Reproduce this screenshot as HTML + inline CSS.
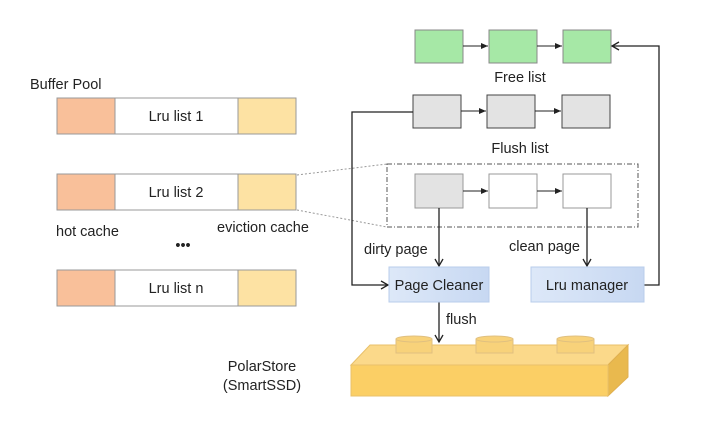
<!DOCTYPE html>
<html><head><style>
body{margin:0;background:#fff;}
svg text{font-family:"Liberation Sans","DejaVu Sans",sans-serif;font-size:14.5px;fill:#222;}
</style></head><body>
<svg width="712" height="421" viewBox="0 0 712 421" xmlns="http://www.w3.org/2000/svg">
<defs>
<marker id="a" markerWidth="8" markerHeight="8" refX="7" refY="4" orient="auto" markerUnits="userSpaceOnUse"><path d="M0,1 L7,4 L0,7 z" fill="#222"/></marker>
<marker id="o" markerWidth="10" markerHeight="10" refX="8" refY="5" orient="auto" markerUnits="userSpaceOnUse"><path d="M1,1 L8,5 L1,9" fill="none" stroke="#222" stroke-width="1.3"/></marker>
<linearGradient id="bl" x1="0" x2="1"><stop offset="0" stop-color="#dde8f8"/><stop offset="1" stop-color="#c7d8f2"/></linearGradient>
</defs>
<text x="30" y="89" font-size="14">Buffer Pool</text>
<g stroke="#999" stroke-width="1">
<rect x="57" y="98" width="58" height="36" fill="#f9c09a"/><rect x="115" y="98" width="123" height="36" fill="#fff"/><rect x="238" y="98" width="58" height="36" fill="#fde2a3"/>
<rect x="57" y="174" width="58" height="36" fill="#f9c09a"/><rect x="115" y="174" width="123" height="36" fill="#fff"/><rect x="238" y="174" width="58" height="36" fill="#fde2a3"/>
<rect x="57" y="270" width="58" height="36" fill="#f9c09a"/><rect x="115" y="270" width="123" height="36" fill="#fff"/><rect x="238" y="270" width="58" height="36" fill="#fde2a3"/>
</g>
<text x="176" y="121" text-anchor="middle" font-size="12.5">Lru list 1</text>
<text x="176" y="197" text-anchor="middle" font-size="12.5">Lru list 2</text>
<text x="176" y="293" text-anchor="middle" font-size="12.5">Lru list n</text>
<text x="56" y="236">hot cache</text>
<text x="217" y="232">eviction cache</text>
<text x="183" y="250" text-anchor="middle" font-size="13">•••</text>
<line x1="297" y1="175" x2="387" y2="164" stroke="#999" stroke-dasharray="2,2"/>
<line x1="297" y1="210" x2="387" y2="227" stroke="#999" stroke-dasharray="2,2"/>
<g stroke="#888"><rect x="415" y="30" width="48" height="33" fill="#a6e8a6"/><rect x="489" y="30" width="48" height="33" fill="#a6e8a6"/><rect x="563" y="30" width="48" height="33" fill="#a6e8a6"/></g>
<line x1="463" y1="46" x2="488" y2="46" stroke="#222" marker-end="url(#a)"/>
<line x1="537" y1="46" x2="562" y2="46" stroke="#222" marker-end="url(#a)"/>
<text x="520" y="82" text-anchor="middle">Free list</text>
<g stroke="#444"><rect x="413" y="95" width="48" height="33" fill="#e3e3e3"/><rect x="487" y="95" width="48" height="33" fill="#e3e3e3"/><rect x="562" y="95" width="48" height="33" fill="#e3e3e3"/></g>
<line x1="461" y1="111" x2="486" y2="111" stroke="#222" marker-end="url(#a)"/>
<line x1="535" y1="111" x2="561" y2="111" stroke="#222" marker-end="url(#a)"/>
<text x="520" y="153" text-anchor="middle">Flush list</text>
<rect x="387" y="164" width="251" height="63" fill="none" stroke="#555" stroke-dasharray="5,2,1,2"/>
<g stroke="#999"><rect x="415" y="174" width="48" height="34" fill="#e3e3e3"/><rect x="489" y="174" width="48" height="34" fill="#fff"/><rect x="563" y="174" width="48" height="34" fill="#fff"/></g>
<line x1="463" y1="191" x2="488" y2="191" stroke="#222" marker-end="url(#a)"/>
<line x1="537" y1="191" x2="562" y2="191" stroke="#222" marker-end="url(#a)"/>
<polyline points="413,112 352,112 352,285 388,285" fill="none" stroke="#222" stroke-width="1.3" marker-end="url(#o)"/>
<polyline points="644,285 659,285 659,46 612,46" fill="none" stroke="#222" stroke-width="1.3" marker-end="url(#o)"/>
<line x1="439" y1="208" x2="439" y2="266" stroke="#222" stroke-width="1.3" marker-end="url(#o)"/>
<line x1="587" y1="208" x2="587" y2="266" stroke="#222" stroke-width="1.3" marker-end="url(#o)"/>
<line x1="439" y1="302" x2="439" y2="342" stroke="#222" stroke-width="1.3" marker-end="url(#o)"/>
<text x="364" y="254">dirty page</text>
<text x="509" y="251">clean page</text>
<text x="446" y="324">flush</text>
<rect x="389" y="267" width="100" height="35" fill="url(#bl)" stroke="#b8cdeb"/>
<rect x="531" y="267" width="113" height="35" fill="url(#bl)" stroke="#b8cdeb"/>
<text x="439" y="290" text-anchor="middle" font-size="14">Page Cleaner</text>
<text x="587" y="290" text-anchor="middle" font-size="14">Lru manager</text>
<polygon points="351,365 370,345 628,345 608,365" fill="#fbd98a" stroke="#e8c06a"/>
<polygon points="608,365 628,345 628,377 608,396" fill="#e9b94e" stroke="#e0b050"/>
<rect x="351" y="365" width="257" height="31" fill="#fbcf65" stroke="#e8c06a"/>
<g fill="#f8d27a" stroke="#e0c080">
<rect x="396" y="339" width="36" height="14"/><ellipse cx="414" cy="339" rx="18" ry="3"/>
<rect x="476" y="339" width="37" height="14"/><ellipse cx="494.5" cy="339" rx="18.5" ry="3"/>
<rect x="557" y="339" width="37" height="14"/><ellipse cx="575.5" cy="339" rx="18.5" ry="3"/>
</g>
<text x="262" y="371" text-anchor="middle">PolarStore</text>
<text x="262" y="390" text-anchor="middle">(SmartSSD)</text>
</svg>
</body></html>
